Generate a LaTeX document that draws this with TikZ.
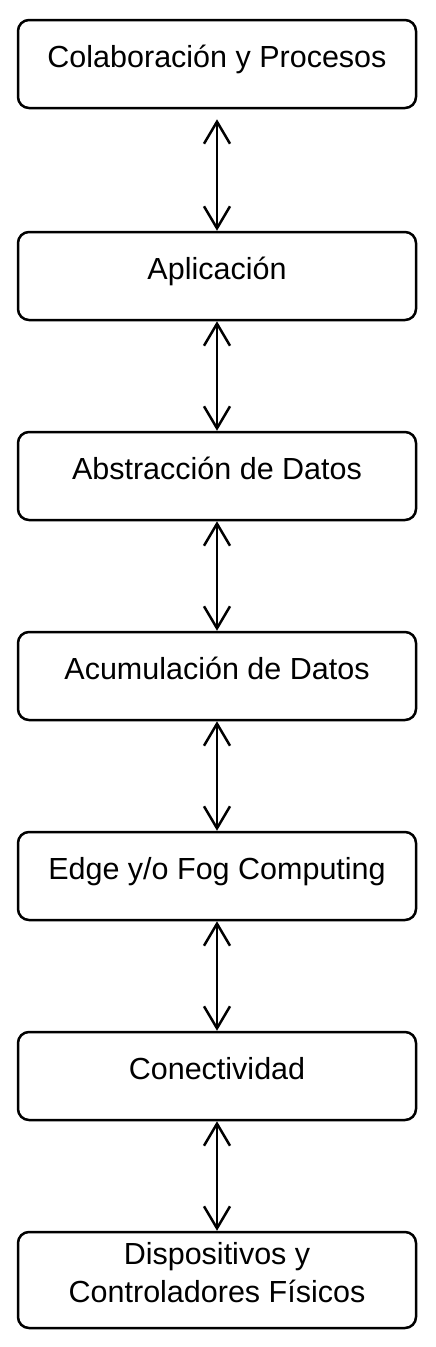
\documentclass[tikz,border=0pt]{standalone}
\usepackage{fontspec}
\setmainfont{Liberation Sans}
\usetikzlibrary{arrows.meta}
\tikzset{
  layerbox/.style={draw=black, line width=2.5pt, rounded corners=11pt, minimum width=398pt, font=\fontsize{30.5}{38}\selectfont, inner sep=0pt},
  onebox/.style={layerbox, minimum height=88pt, text height=0.8em, text depth=0.15em},
  biarrow/.style={line width=2.5pt, line cap=round, {Straight Barb[length=22pt,width=26pt,line width=2.5pt]}-{Straight Barb[length=22pt,width=26pt,line width=2.5pt]}}
}
\begin{document}
\begin{tikzpicture}[x=1pt,y=-1pt]
\useasboundingbox[fill=white] (0,0) rectangle (436,1347);
\node[onebox] (b1) at (217,64) {Colaboración y Procesos};
\node[onebox] (b2) at (217,276) {Aplicación};
\node[onebox] (b3) at (217,476) {Abstracción de Datos};
\node[onebox] (b4) at (217,676) {Acumulación de Datos};
\node[onebox] (b5) at (217,876) {Edge y/o Fog Computing};
\node[onebox] (b6) at (217,1076) {Conectividad};
\node[layerbox, minimum height=96pt] (b7) at (217,1280) {};
\node[font=\fontsize{30.5}{38}\selectfont, align=center, inner sep=0pt] (t7) at (217,1273) {Dispositivos y\\Controladores Físicos};
\draw[biarrow, shorten <=10pt] (b1.south) -- (b2.north);
\draw[biarrow] (b2.south) -- (b3.north);
\draw[biarrow] (b3.south) -- (b4.north);
\draw[biarrow] (b4.south) -- (b5.north);
\draw[biarrow] (b5.south) -- (b6.north);
\draw[biarrow] (b6.south) -- (b7.north);
\end{tikzpicture}
\end{document}
